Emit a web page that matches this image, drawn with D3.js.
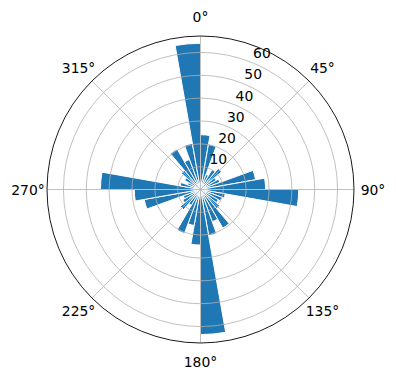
<!DOCTYPE html>
<html lang="en">
<head>
  <meta charset="UTF-8">
  <title>Polar bars</title>
  <style>
    body { margin: 0; background: #fff; }
    text { font-family: 'DejaVu Sans', sans-serif; font-size: 13.9px; fill: #000; }
  </style>
</head>
<body>
  <svg id="svg" width="396" height="380"></svg>

  <script src="https://d3js.org/d3.v7.min.js"></script>
  <script>
    // 36 direction bins of 10 degrees, clockwise from north
    const binStarts = d3.range(0, 360, 10)
    const counts = [24, 20, 7, 10, 12, 8, 9, 24.5, 28.5, 43,
                    11, 10, 9, 11, 19.5, 15, 20.5, 63.5, 24.3, 16,
                    20.5, 8, 11.5, 9, 8, 25, 29, 43.8, 9, 6,
                    8, 11, 20.5, 14, 20.5, 64]
    const rTicks = [10, 20, 30, 40, 50, 60]
    const thetaTicks = [0, 45, 90, 135, 180, 225, 270, 315]

    const cx = 200.5, cy = 189.5, R = 153.5
    const rMax = d3.max(counts) * 1.05

    const rScale = d3.scaleLinear()
      .domain([0, rMax])
      .range([0, R])

    const rad = d => d * Math.PI / 180

    const svg = d3.select('#svg')
    const g = svg.append('g').attr('transform', `translate(${cx},${cy})`)

    // bars
    const arc = d3.arc()
      .innerRadius(0)
      .outerRadius(d => rScale(d.v))
      .startAngle(d => rad(d.a))
      .endAngle(d => rad(d.a + 10))

    g.selectAll('path.bar')
      .data(binStarts.map((a, i) => ({ a: a, v: counts[i] })))
      .enter()
      .append('path')
      .attr('class', 'bar')
      .attr('d', arc)
      .attr('fill', '#1f77b4')
      .attr('stroke', '#fff')
      .attr('stroke-width', 1)

    // grid (drawn over the bars, like matplotlib)
    g.selectAll('circle.grid')
      .data(rTicks)
      .enter()
      .append('circle')
      .attr('r', d => rScale(d))
      .attr('fill', 'none')
      .attr('stroke', '#b0b0b0')
      .attr('stroke-width', 0.8)

    g.selectAll('line.grid')
      .data(thetaTicks)
      .enter()
      .append('line')
      .attr('x1', 0)
      .attr('y1', 0)
      .attr('x2', d => R * Math.sin(rad(d)))
      .attr('y2', d => -R * Math.cos(rad(d)))
      .attr('stroke', '#b0b0b0')
      .attr('stroke-width', 0.8)

    g.append('circle')
      .attr('r', R)
      .attr('fill', 'none')
      .attr('stroke', '#000')
      .attr('stroke-width', 0.9)

    // radial labels at 22.5 deg
    g.selectAll('text.rlab')
      .data(rTicks)
      .enter()
      .append('text')
      .attr('x', d => rScale(d) * Math.sin(rad(22.5)) + 9)
      .attr('y', d => -rScale(d) * Math.cos(rad(22.5)) - 9.5)
      .attr('text-anchor', 'middle')
      .attr('dominant-baseline', 'central')
      .text(d => d)

    // angle labels
    const labR = R + 19
    g.selectAll('text.tlab')
      .data(thetaTicks)
      .enter()
      .append('text')
      .attr('x', d => labR * Math.sin(rad(d)))
      .attr('y', d => -labR * Math.cos(rad(d)))
      .attr('text-anchor', 'middle')
      .attr('dominant-baseline', 'central')
      .text(d => `${d}°`)
  </script>
</body>
</html>
